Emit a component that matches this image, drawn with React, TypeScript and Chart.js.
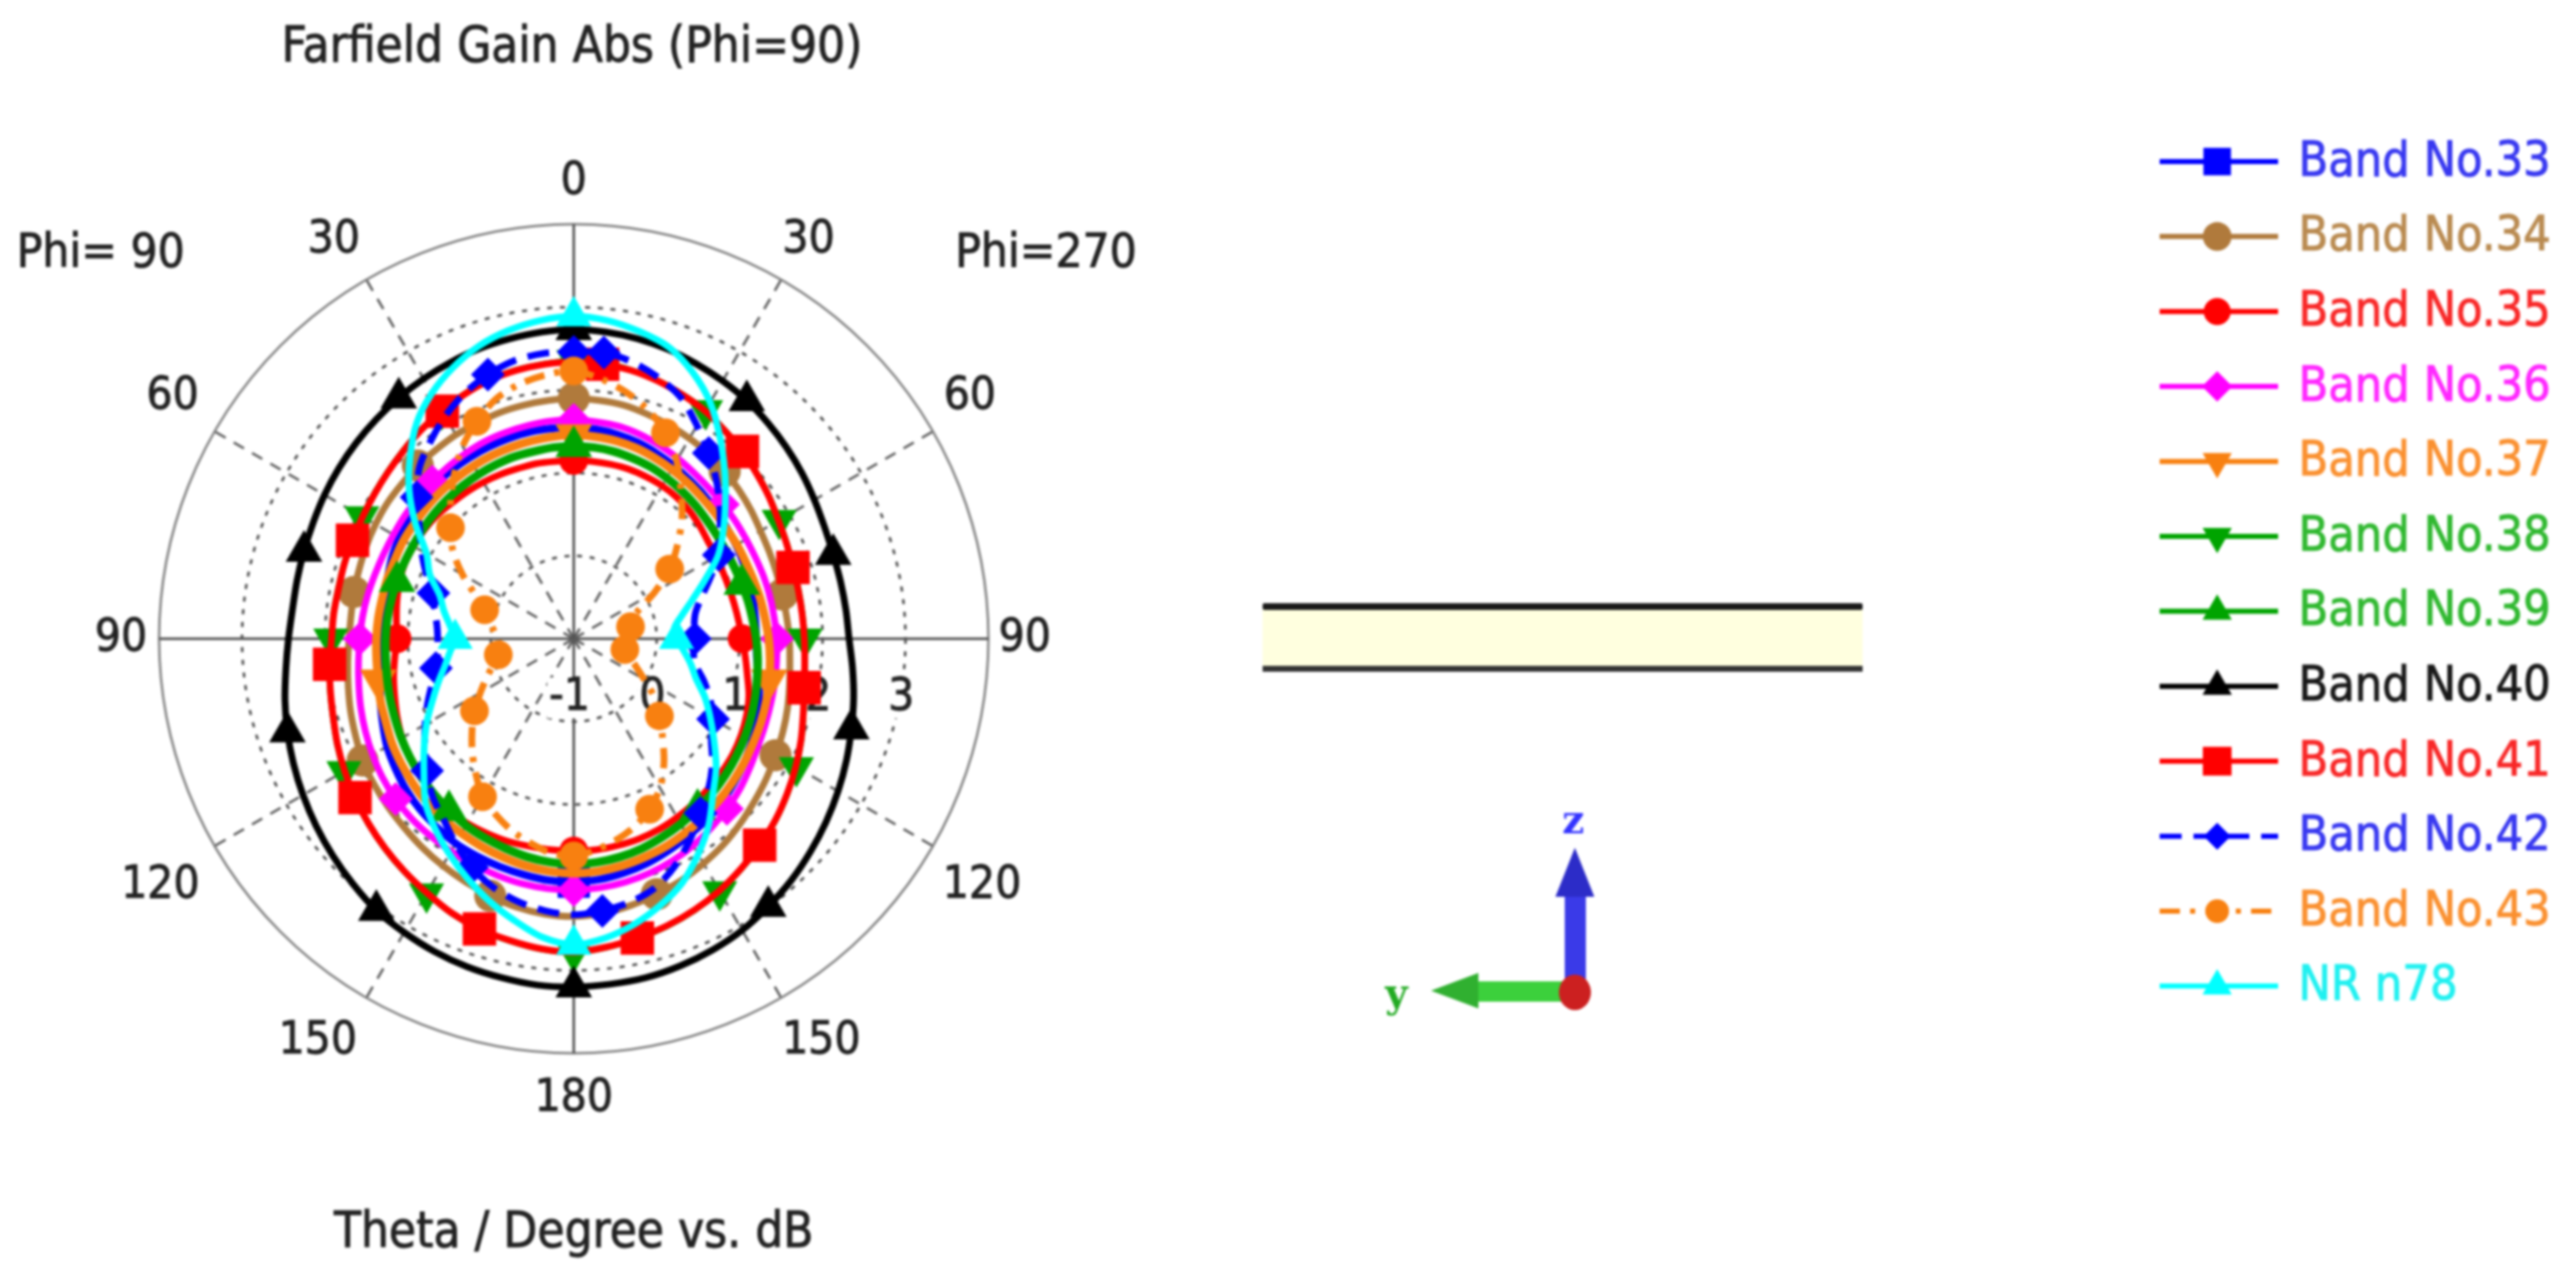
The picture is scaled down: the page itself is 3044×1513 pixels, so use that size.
import React, { useEffect, useRef } from 'react';
import Chart from 'chart.js/auto';
import { drawPoint } from 'chart.js/helpers';

// theta runs clockwise from the top of the plot, one value every 6 degrees
const sweep = Array.from({ length: 60 }, (_, i) => i * 6);
const angleTicks = ['0', '30', '60', '90', '120', '150', '180', '150', '120', '90', '60', '30'];
const gainTicks = [-1, 0, 1, 2, 3];

const band33 = [1.55, 1.54, 1.52, 1.49, 1.45, 1.41, 1.37, 1.34, 1.31, 1.28, 1.26, 1.24, 1.22, 1.21, 1.20, 1.20, 1.22, 1.28, 1.35, 1.43, 1.48, 1.54, 1.60, 1.66, 1.71, 1.75, 1.80, 1.85, 1.89, 1.92, 1.93, 1.93, 1.91, 1.89, 1.87, 1.85, 1.81, 1.77, 1.72, 1.66, 1.60, 1.52, 1.45, 1.38, 1.33, 1.30, 1.31, 1.33, 1.36, 1.40, 1.43, 1.46, 1.48, 1.50, 1.51, 1.52, 1.53, 1.54, 1.55, 1.55];
const band34 = [1.90, 1.89, 1.88, 1.85, 1.82, 1.79, 1.76, 1.72, 1.68, 1.64, 1.60, 1.58, 1.57, 1.57, 1.58, 1.60, 1.62, 1.66, 1.71, 1.76, 1.81, 1.87, 1.93, 2.00, 2.07, 2.13, 2.19, 2.24, 2.29, 2.33, 2.35, 2.34, 2.31, 2.26, 2.21, 2.16, 2.11, 2.06, 2.02, 1.98, 1.94, 1.88, 1.83, 1.78, 1.74, 1.71, 1.70, 1.71, 1.72, 1.74, 1.76, 1.78, 1.79, 1.81, 1.82, 1.84, 1.85, 1.87, 1.88, 1.89];
const band35 = [1.15, 1.15, 1.15, 1.15, 1.14, 1.13, 1.11, 1.08, 1.04, 1.00, 0.98, 0.97, 0.97, 0.98, 1.00, 1.03, 1.08, 1.14, 1.22, 1.28, 1.33, 1.37, 1.40, 1.43, 1.46, 1.49, 1.52, 1.54, 1.55, 1.56, 1.56, 1.56, 1.56, 1.57, 1.57, 1.57, 1.56, 1.53, 1.49, 1.44, 1.39, 1.33, 1.27, 1.22, 1.17, 1.13, 1.15, 1.18, 1.21, 1.23, 1.23, 1.23, 1.22, 1.20, 1.19, 1.18, 1.17, 1.16, 1.16, 1.15];
const band36 = [1.64, 1.63, 1.62, 1.59, 1.55, 1.51, 1.47, 1.44, 1.42, 1.41, 1.40, 1.40, 1.41, 1.42, 1.43, 1.45, 1.46, 1.48, 1.50, 1.53, 1.57, 1.63, 1.70, 1.76, 1.82, 1.88, 1.93, 1.97, 2.00, 2.02, 2.03, 2.03, 2.02, 2.00, 1.98, 1.96, 1.94, 1.92, 1.89, 1.85, 1.80, 1.75, 1.70, 1.65, 1.61, 1.58, 1.56, 1.54, 1.52, 1.51, 1.51, 1.52, 1.53, 1.55, 1.57, 1.59, 1.61, 1.62, 1.63, 1.64];
const band37 = [1.46, 1.45, 1.44, 1.42, 1.39, 1.36, 1.33, 1.30, 1.28, 1.27, 1.27, 1.27, 1.28, 1.30, 1.32, 1.35, 1.38, 1.41, 1.44, 1.47, 1.50, 1.54, 1.58, 1.62, 1.66, 1.70, 1.74, 1.77, 1.80, 1.82, 1.83, 1.82, 1.80, 1.77, 1.74, 1.71, 1.68, 1.65, 1.61, 1.57, 1.53, 1.48, 1.45, 1.41, 1.39, 1.38, 1.37, 1.36, 1.36, 1.36, 1.37, 1.37, 1.38, 1.39, 1.40, 1.41, 1.42, 1.43, 1.44, 1.45];
const band38 = [2.36, 2.35, 2.32, 2.28, 2.23, 2.18, 2.11, 2.05, 1.98, 1.92, 1.86, 1.82, 1.79, 1.78, 1.78, 1.79, 1.81, 1.85, 1.92, 2.01, 2.10, 2.19, 2.28, 2.36, 2.44, 2.52, 2.59, 2.65, 2.70, 2.75, 2.79, 2.77, 2.73, 2.69, 2.63, 2.55, 2.48, 2.41, 2.34, 2.27, 2.20, 2.13, 2.06, 2.01, 1.97, 1.93, 1.92, 1.91, 1.92, 1.93, 1.95, 1.98, 2.02, 2.07, 2.13, 2.18, 2.24, 2.29, 2.32, 2.34];
const band39 = [1.32, 1.32, 1.31, 1.29, 1.27, 1.24, 1.21, 1.18, 1.15, 1.13, 1.12, 1.12, 1.13, 1.15, 1.17, 1.20, 1.23, 1.26, 1.30, 1.34, 1.38, 1.42, 1.46, 1.50, 1.54, 1.58, 1.62, 1.66, 1.69, 1.71, 1.72, 1.71, 1.69, 1.66, 1.63, 1.60, 1.56, 1.52, 1.48, 1.44, 1.40, 1.36, 1.33, 1.30, 1.28, 1.27, 1.26, 1.25, 1.24, 1.24, 1.24, 1.25, 1.26, 1.27, 1.28, 1.29, 1.30, 1.31, 1.31, 1.32];
const band40 = [2.73, 2.72, 2.70, 2.67, 2.63, 2.59, 2.55, 2.50, 2.45, 2.40, 2.35, 2.31, 2.29, 2.29, 2.30, 2.32, 2.38, 2.45, 2.52, 2.60, 2.68, 2.76, 2.84, 2.92, 2.99, 3.06, 3.11, 3.15, 3.18, 3.19, 3.20, 3.20, 3.18, 3.16, 3.13, 3.09, 3.05, 2.98, 2.91, 2.84, 2.77, 2.70, 2.63, 2.56, 2.49, 2.44, 2.41, 2.41, 2.42, 2.44, 2.47, 2.50, 2.53, 2.56, 2.59, 2.62, 2.65, 2.68, 2.70, 2.72];
const band41 = [2.34, 2.33, 2.31, 2.27, 2.22, 2.17, 2.10, 2.04, 1.97, 1.91, 1.85, 1.81, 1.78, 1.77, 1.77, 1.78, 1.80, 1.84, 1.91, 2.00, 2.09, 2.18, 2.27, 2.35, 2.43, 2.51, 2.58, 2.64, 2.69, 2.74, 2.78, 2.76, 2.72, 2.68, 2.62, 2.54, 2.47, 2.40, 2.33, 2.26, 2.19, 2.12, 2.05, 2.00, 1.96, 1.92, 1.91, 1.90, 1.91, 1.92, 1.94, 1.97, 2.01, 2.06, 2.12, 2.17, 2.23, 2.28, 2.31, 2.33];
const band42 = [2.46, 2.47, 2.41, 2.31, 2.18, 1.97, 1.77, 1.57, 1.37, 1.18, 1.02, 0.80, 0.62, 0.50, 0.46, 0.46, 0.45, 0.50, 0.65, 0.80, 0.94, 1.05, 1.25, 1.43, 1.60, 1.80, 2.00, 2.16, 2.25, 2.30, 2.33, 2.30, 2.24, 2.15, 2.02, 1.85, 1.68, 1.55, 1.38, 1.22, 1.07, 0.93, 0.80, 0.70, 0.65, 0.64, 0.66, 0.72, 0.78, 0.95, 1.12, 1.30, 1.55, 1.78, 1.94, 2.10, 2.24, 2.35, 2.43, 2.46];
const band43 = [2.23, 2.15, 2.04, 1.90, 1.72, 1.48, 1.20, 0.95, 0.68, 0.43, 0.13, -0.14, -0.27, -0.30, -0.34, -0.37, -0.38, -0.37, -0.30, -0.18, -0.02, 0.20, 0.39, 0.60, 0.85, 1.08, 1.25, 1.38, 1.48, 1.56, 1.62, 1.60, 1.52, 1.43, 1.32, 1.20, 1.01, 0.83, 0.65, 0.48, 0.30, 0.15, 0.02, -0.07, -0.10, -0.08, -0.03, 0.05, 0.13, 0.30, 0.55, 0.80, 1.00, 1.22, 1.45, 1.68, 1.87, 2.04, 2.14, 2.20];
const nrN78 = [2.89, 2.86, 2.79, 2.70, 2.52, 2.29, 2.00, 1.72, 1.46, 1.23, 1.01, 0.73, 0.50, 0.33, 0.22, 0.24, 0.33, 0.44, 0.55, 0.73, 0.90, 1.09, 1.31, 1.51, 1.77, 2.00, 2.22, 2.38, 2.52, 2.63, 2.69, 2.62, 2.47, 2.32, 2.16, 2.00, 1.84, 1.67, 1.43, 1.23, 1.05, 0.87, 0.72, 0.59, 0.50, 0.43, 0.50, 0.60, 0.70, 0.90, 1.05, 1.36, 1.67, 1.95, 2.22, 2.42, 2.58, 2.71, 2.80, 2.86];

const degs = (start: number, step: number) => {
  const out: number[] = [];
  for (let d = start; d < 360; d += step) out.push(d);
  return out;
};

const FONT = '"DejaVu Sans Condensed", "DejaVu Sans", sans-serif';
const BLUE = '#0000ff';
const RED = '#ff0000';
const GREEN = '#00a400';
const ORANGE = '#f88010';

const bands = [
  { label: 'Band No.33', data: band33, color: BLUE, text: '#3838f0', style: 'rect', size: 27, legendSize: 23, width: 9, markers: [180] },
  { label: 'Band No.34', data: band34, color: '#b07a3c', text: '#b98a50', style: 'circle', size: 19, legendSize: 17, width: 8, markers: degs(0, 40) },
  { label: 'Band No.35', data: band35, color: RED, text: '#f82828', style: 'circle', size: 17, legendSize: 16, width: 8, markers: degs(0, 90) },
  { label: 'Band No.36', data: band36, color: '#ff00ff', text: '#ff28ff', style: 'rectRot', size: 20, legendSize: 18, width: 8, markers: degs(0, 45) },
  { label: 'Band No.37', data: band37, color: ORANGE, text: '#fa9030', style: 'triangle', rot: 180, size: 25, legendSize: 20, width: 10, markers: [0, 102, 258] },
  { label: 'Band No.38', data: band38, color: GREEN, text: '#30b830', style: 'triangle', rot: 180, size: 24, legendSize: 20, width: 6, markers: degs(0, 30) },
  { label: 'Band No.39', data: band39, color: GREEN, text: '#30b830', style: 'triangle', size: 25, legendSize: 20, width: 10, markers: degs(0, 72) },
  { label: 'Band No.40', data: band40, color: '#000000', text: '#181818', style: 'triangle', size: 25, legendSize: 20, width: 8, markers: degs(0, 36) },
  { label: 'Band No.41', data: band41, color: RED, text: '#f82828', style: 'rect', size: 28, legendSize: 24, width: 8, markers: degs(8, 32) },
  { label: 'Band No.42', data: band42, color: BLUE, text: '#3838f0', style: 'rectRot', size: 20, legendSize: 16, width: 8, dash: [26, 14], markers: [0, ...degs(5, 28)] },
  { label: 'Band No.43', data: band43, color: ORANGE, text: '#fa9030', style: 'circle', size: 17, legendSize: 14, width: 8, dash: [24, 12, 6, 12], markers: degs(0, 26) },
  { label: 'NR n78', data: nrN78, color: '#00ffff', text: '#20f0f0', style: 'triangle', size: 24, legendSize: 20, width: 8, markers: degs(0, 90) },
];

// how far each theta tick sits from the plot centre, and its small nudge
const angleTickDist = [546, 551, 552, 533, 564, 561, 544, 561, 564, 535, 552, 551];
const angleTickNudge = [[0, 6], [2, 6], [-10, -10], [0, 0], [-6, 10], [12, -10], [0, 0], [-22, -10], [0, 10], [0, 0], [4, -10], [-8, 6]];
const tickColor = '#222222';

const putText = (ctx: any, s: string, x: number, y: number) => {
  ctx.strokeStyle = ctx.fillStyle;
  ctx.lineWidth = 1;
  ctx.setLineDash([]);
  ctx.strokeText(s, x, y);
  ctx.fillText(s, x, y);
};

const labelsPlugin = {
  id: 'cstLabels',
  beforeDatasetsDraw(chart: any) {
    const { ctx } = chart;
    const scale = chart.scales.r;
    ctx.save();
    ctx.fillStyle = tickColor;
    ctx.textAlign = 'center';
    ctx.textBaseline = 'middle';
    ctx.font = `54px ${FONT}`;
    // theta ticks around the outer ring
    angleTicks.forEach((t, i) => {
      const p = scale.getPointPosition(i * 5, angleTickDist[i]);
      putText(ctx, t, p.x + angleTickNudge[i][0], p.y + angleTickNudge[i][1]);
    });
    // gain ticks sit under the horizontal axis, with a white box
    gainTicks.forEach((g) => {
      const x = scale.xCenter + scale.getDistanceFromCenterForValue(g) - 5;
      const y = scale.yCenter + 70;
      const w = ctx.measureText(String(g)).width;
      ctx.fillStyle = '#ffffff';
      ctx.fillRect(x - w / 2 - 2, y - 24, w + 4, 48);
      ctx.fillStyle = tickColor;
      putText(ctx, String(g), x, y);
    });
    ctx.restore();
  },
  afterDraw(chart: any) {
    const { ctx } = chart;
    ctx.save();
    ctx.textBaseline = 'middle';
    ctx.textAlign = 'center';
    ctx.fillStyle = tickColor;
    ctx.font = `58px ${FONT}`;
    putText(ctx, 'Farfield Gain Abs (Phi=90)', 676, 58);
    putText(ctx, 'Theta / Degree vs. dB', 678, 1459);
    ctx.font = `56px ${FONT}`;
    putText(ctx, 'Phi= 90', 119, 300);
    putText(ctx, 'Phi=270', 1236, 300);

    // legend column
    ctx.textAlign = 'left';
    ctx.font = `57px ${FONT}`;
    bands.forEach((b, i) => {
      const y = 191 + i * 88.6;
      ctx.strokeStyle = b.color;
      ctx.lineWidth = 6;
      ctx.setLineDash(b.dash || []);
      ctx.beginPath();
      ctx.moveTo(2552, y);
      ctx.lineTo(2692, y);
      ctx.stroke();
      ctx.setLineDash([]);
      ctx.fillStyle = b.color;
      drawPoint(ctx, { pointStyle: b.style, rotation: b.rot || 0, radius: b.legendSize, borderWidth: 0 }, 2620, y);
      ctx.fillStyle = b.text;
      putText(ctx, b.label, 2716, y + 2);
    });
    ctx.restore();
  },
};

const thetaLine = (i: number) => i % 5 === 0;
const mainLine = (i: number) => i % 15 === 0;

export default function App() {
  const chartRef = useRef<HTMLCanvasElement>(null);

  useEffect(() => {
    if (!chartRef.current) return;
    const n = bands.length;
    const chart = new Chart(chartRef.current, {
      type: 'radar',
      plugins: [labelsPlugin],
      data: {
        labels: sweep,
        datasets: bands.map((b, i) => {
          const marked = new Set(b.markers.map((d) => Math.round(d / 6) % 60));
          return {
            label: b.label,
            data: b.data,
            order: n - i,
            fill: false,
            tension: 0.3,
            borderColor: b.color,
            borderWidth: b.width,
            borderDash: b.dash || [],
            pointStyle: b.style,
            pointRotation: b.rot || 0,
            pointRadius: (c: any) => (marked.has(c.dataIndex) ? b.size : 0),
            pointBackgroundColor: b.color,
            pointBorderWidth: 0,
          };
        }),
      } as any,
      options: {
        responsive: false,
        animation: false,
        devicePixelRatio: 1,
        layout: { padding: { left: 188, top: 265, right: 3044 - 1168, bottom: 1513 - 1245 } },
        plugins: { legend: { display: false }, tooltip: { enabled: false }, title: { display: false } },
        elements: { line: { borderCapStyle: 'butt' } },
        scales: {
          r: {
            min: -1,
            max: 4,
            ticks: { display: false, stepSize: 1 },
            pointLabels: { display: false },
            grid: {
              circular: true,
              color: (c: any) => (c.index === 5 ? '#888888' : '#505050'),
              lineWidth: 3,
            },
            border: { dash: (c: any) => (c.index === 5 ? [] : [6, 9]) },
            angleLines: {
              color: (c: any) => (mainLine(c.index) ? '#505050' : '#606060'),
              lineWidth: (c: any) => (thetaLine(c.index) ? 3 : 0),
              borderDash: (c: any) => (mainLine(c.index) ? [] : [14, 11]),
            },
          },
        },
      } as any,
    });
    return () => chart.destroy();
  }, []);

  return (
    <div style={{ position: 'absolute', left: 0, top: 0, width: 3044, height: 1513, overflow: 'hidden', background: '#fff', filter: 'blur(1.7px)' }}>
      <canvas ref={chartRef} width={3044} height={1513} style={{ position: 'absolute', left: 0, top: 0 }} />
      {/* the flat model and the coordinate triad beside the plot */}
      <svg width={3044} height={1513} style={{ position: 'absolute', left: 0, top: 0 }}>
        <rect x={1492} y={716} width={709} height={74} fill="#ffffdf" />
        <rect x={1492} y={713} width={709} height={8} rx={2} fill="#1a1a1a" />
        <rect x={1492} y={787} width={709} height={7} fill="#333333" />
        <rect x={1849} y={1050} width={25} height={110} fill="#3a3ae8" />
        <polygon points="1861,1002 1884,1060 1838,1060" fill="#2c2cc8" />
        <rect x={1745} y={1160} width={105} height={24} fill="#3cd03c" />
        <polygon points="1691,1171 1747,1150 1747,1192" fill="#30b030" />
        <ellipse cx={1861} cy={1173} rx={19} ry={21} fill="#cc2020" />
        <text x={1859} y={985} textAnchor="middle" fontFamily="DejaVu Serif" fontWeight="bold" fontSize={46} fill="#3333ff">z</text>
        <text x={1650} y={1190} textAnchor="middle" fontFamily="DejaVu Serif" fontWeight="bold" fontSize={46} fill="#22aa22">y</text>
      </svg>
    </div>
  );
}
